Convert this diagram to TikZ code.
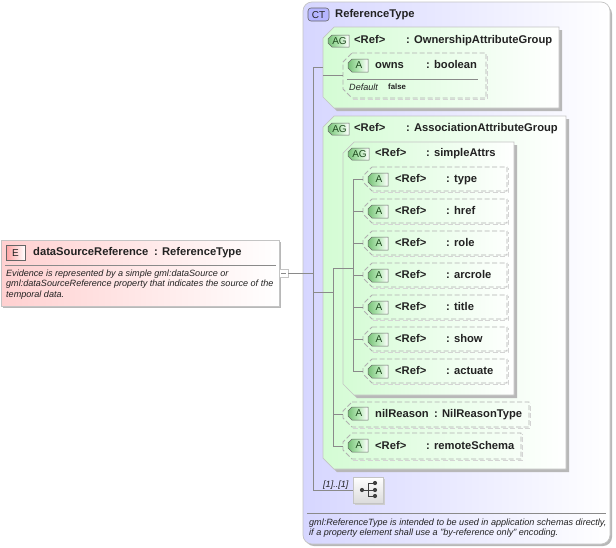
\documentclass[tikz,border=0pt]{standalone}
\usepackage{fontspec}
\setmainfont{Liberation Sans}
\usetikzlibrary{calc}
\definecolor{edgeg}{HTML}{C4C4C4}
\definecolor{dashg}{HTML}{B0B0B0}
\definecolor{shadowg}{HTML}{B8B8B8}
\definecolor{linec}{HTML}{8A8A8A}
\definecolor{txt}{HTML}{222222}
\definecolor{lav}{HTML}{D6D6FF}
\definecolor{mint}{HTML}{D4FCD4}
\definecolor{pink}{HTML}{FFD0D0}
\definecolor{badgeg}{HTML}{78C078}
\definecolor{badgem}{HTML}{B4E8B4}
\definecolor{badgetxt}{HTML}{1E4A1E}
\tikzset{
  x=1pt,y=-1pt,
  conn/.style={draw=linec,line width=0.6pt},
  lab/.style={anchor=base west,inner sep=0pt,text=txt,font=\fontsize{11.2}{12}\selectfont\bfseries},
  desc/.style={anchor=base west,inner sep=0pt,text=txt,font=\fontsize{9.07}{10}\selectfont\itshape},
  tagtxt/.style={inner sep=0pt,text=txt,font=\fontsize{10}{12}\selectfont},
}
\newcommand{\chamferpath}[4]{(#1+11,#2) -- (#3,#2) -- (#3,#4) -- (#1+11,#4) -- (#1,#4-11) -- (#1,#2+11) -- cycle}
\newcommand{\groupbox}[5]{%
  \fill[shadowg] ($(#1+11,#2)+(3,3)$) -- (#3+3,#2+3) -- (#3+3,#4+3) -- (#1+14,#4+3) -- (#1+3,#4-8) -- (#1+3,#2+14) -- cycle;
  \path[left color=mint,right color=white,draw=edgeg,line width=0.7pt] \chamferpath{#1}{#2}{#3}{#4};
  \node[inner sep=0pt,outer sep=0pt,minimum width=#3-#1,minimum height=#4-#2] (#5) at ({(#1+#3)/2},{(#2+#4)/2}) {};
}
\newcommand{\attrbox}[5]{%
  \draw[shadowg!60,line width=1pt,dash pattern=on 5pt off 2.5pt] (#1+9.5,#4+1) -- (#3+1,#4+1) -- (#3+1,#2+1);
  \path[draw=dashg,line width=0.9pt,dash pattern=on 5pt off 2.5pt] (#1+9,#2) -- (#3,#2) -- (#3,#4) -- (#1+9,#4) -- (#1,#4-9) -- (#1,#2+9) -- cycle;
  \node[inner sep=0pt,outer sep=0pt,minimum width=#3-#1,minimum height=#4-#2] (#5) at ({(#1+#3)/2},{(#2+#4)/2}) {};
}
\newcommand{\badge}[5]{%
  \path[left color=badgeg,right color=white,middle color=badgem,draw=black!60,line width=0.5pt]
    (#1+4,#2) -- (#3,#2) -- (#3,#4) -- (#1+4,#4) -- (#1,#4-4) -- (#1,#2+4) -- cycle;
  \node[tagtxt,text=badgetxt] at ({(#1+#3)/2+1},{(#2+#4)/2}) {#5};
}
\begin{document}
\begin{tikzpicture}
\useasboundingbox (0,0) rectangle (616,547);
\fill[white] (0,0) rectangle (616,547);
% complex type
\fill[shadowg,rounded corners=9pt] (305,5) rectangle (612,546);
\path[left color=lav,right color=white,draw=edgeg,line width=0.7pt,rounded corners=9pt] (303,2) rectangle (610,544);
\node[inner sep=0pt,outer sep=0pt,minimum width=307,minimum height=542] (ct) at (456.5,273) {};
\path[fill=lav!85!blue,draw=black!60,line width=0.6pt,rounded corners=3pt] (308,8) rectangle (329,21);
\node[tagtxt] (cttag) at (318.5,14.7) {CT};
\node[lab] (cttitle) at (335,17.5) {ReferenceType};
% element
\fill[shadowg] (3,242) rectangle (281,308);
\path[left color=pink,right color=white,draw=edgeg,line width=0.7pt] (1,240) rectangle (279,306);
\node[inner sep=0pt,outer sep=0pt,minimum width=278,minimum height=66] (elem) at (140,273) {};
\path[left color=pink!60!red!70!white,right color=white,middle color=pink,draw=black!60,line width=0.5pt] (6,245) rectangle (25,260);
\node[tagtxt] (etag) at (15.5,252.7) {E};
\node[lab] (ename) at (33,255) {dataSourceReference};
\node[lab] (etype) at (154,255) {: ReferenceType};
\draw[linec,line width=0.6pt] (5,265) -- (276,265);
\node[desc] (d1) at (6,276) {Evidence is represented by a simple gml:dataSource or};
\node[desc] (d2) at (6,286.5) {gml:dataSourceReference property that indicates the source of the};
\node[desc] (d3) at (6,297) {temporal data.};
\path[fill=white,draw=edgeg,line width=0.7pt] (279,269) rectangle (288,277);
\node[inner sep=0pt,outer sep=0pt,minimum width=9,minimum height=8] (minus) at (283.5,273) {};
\draw[linec,line width=0.5pt] (281,273) -- (286,273);
% groups
\groupbox{323}{27}{559}{108}{agone}
\groupbox{323}{116}{566}{469}{agtwo}
\groupbox{343}{142}{514}{395}{agthree}
% trunk connectors
\coordinate (trunktop) at (313,67.5);
\coordinate (trunkmid) at (313,273);
\coordinate (trunkbot) at (313,490);
\node[inner sep=0pt,outer sep=0pt,minimum width=30,minimum height=26] (seq) at (368,490) {};
\draw[conn] (minus.east) -- (trunkmid);
\draw[conn] (agone.west) -- (trunktop) -- (trunkbot) -- (seq.west);
\coordinate (twotrunk) at (333,268.5);
\coordinate (threetrunk) at (353,268.5);
\draw[conn] (trunkmid |- agtwo.west) -- (agtwo.west) -- (agtwo.west -| twotrunk);
% attributes
\attrbox{343}{53}{486}{98}{owns}
\attrbox{363}{167}{507}{191}{type}
\attrbox{363}{199}{507}{223}{href}
\attrbox{363}{231}{507}{255}{role}
\attrbox{363}{263}{507}{287}{arcrole}
\attrbox{363}{295}{507}{319}{titlea}
\attrbox{363}{327}{507}{351}{show}
\attrbox{363}{359}{507}{383}{actuate}
\attrbox{343}{402}{529}{427}{nil}
\attrbox{343}{433}{521}{459}{remote}
\draw[conn] (agone.west |- owns.west) -- (owns.west);
\draw[conn] (agthree.west) -- (twotrunk);
\draw[conn] (twotrunk) -- (remote.west -| twotrunk) -- (remote.west);
\draw[conn] (nil.west -| twotrunk) -- (nil.west);
\draw[conn] (agthree.west) -- (threetrunk);
\draw[conn] (type.west) -- (type.west -| threetrunk) -- (actuate.west -| threetrunk) -- (actuate.west);
\foreach \n in {href,role,arcrole,titlea,show}{\draw[conn] (\n.west -| threetrunk) -- (\n.west);}
% group labels
\badge{328}{35}{349}{47}{AG}
\node[lab] (l1a) at (354,43) {<Ref>};
\node[lab] (l1b) at (406,43) {: OwnershipAttributeGroup};
\badge{328}{123}{349}{135}{AG}
\node[lab] (l2a) at (354,131) {<Ref>};
\node[lab] (l2b) at (406,131) {: AssociationAttributeGroup};
\badge{348}{148}{369}{160}{AG}
\node[lab] (l3a) at (375,156) {<Ref>};
\node[lab] (l3b) at (426,156) {: simpleAttrs};
% owns
\badge{348}{59}{368}{72}{A}
\node[lab] (o1) at (375,68) {owns};
\node[lab] (o2) at (426,68) {: boolean};
\draw[linec,line width=0.6pt] (347,79) -- (478,79);
\node[desc] (o3) at (349,90) {Default};
\node[lab,font=\fontsize{7.8}{9}\selectfont\bfseries] (o4) at (388,89) {false};
% attrs
\foreach \y/\t/\n in {167/type/a,199/href/b,231/role/c,263/arcrole/d,295/title/e,327/show/f,359/actuate/g}{
  \badge{368}{\y+6}{388}{\y+19}{A}
  \node[lab] (ra\n) at (395,\y+15) {<Ref>};
  \node[lab] (rb\n) at (446,\y+15) {: \t};
}
\badge{348}{407}{368}{420}{A}
\node[lab] (n1) at (375,417) {nilReason};
\node[lab] (n2) at (434,417) {: NilReasonType};
\badge{348}{439}{368}{452}{A}
\node[lab] (r1) at (375,449) {<Ref>};
\node[lab] (r2) at (426,449) {: remoteSchema};
% sequence
\node[desc] (mult) at (323,487) {[1]..[1]};
\fill[shadowg!70] (355,479) rectangle (385,505);
\path[top color=white,bottom color=black!14,draw=edgeg,line width=0.7pt] (353,477) rectangle (383,503);
\draw[black!75,line width=0.7pt] (362,490) -- (368,490) (368,483) -- (368,496) (368,483) -- (375,483) (368,490) -- (375,490) (368,496) -- (375,496);
\fill[black!75] (362,490) circle (2.1) (375,483) circle (2.1) (375,490) circle (2.1) (375,496) circle (2.1);
% bottom note
\draw[linec,line width=0.6pt] (307,513) -- (606,513);
\node[desc] (b1) at (309,525) {gml:ReferenceType is intended to be used in application schemas directly,};
\node[desc] (b2) at (309,535) {if a property element shall use a "by-reference only" encoding.};
\end{tikzpicture}
\end{document}
